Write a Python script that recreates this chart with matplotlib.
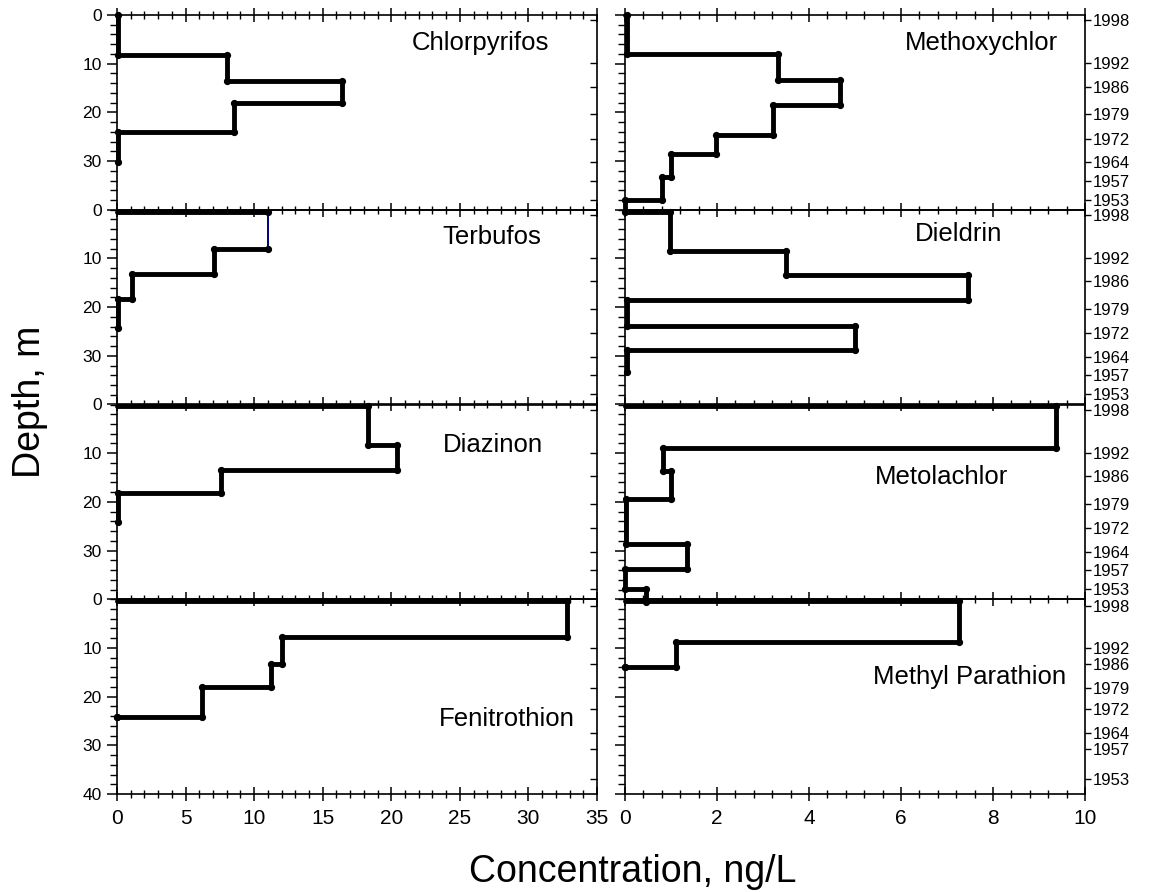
import numpy as np
import matplotlib
matplotlib.use("Agg")
from matplotlib import pyplot as plt
from matplotlib.ticker import MultipleLocator, FixedLocator, NullFormatter

plt.rcParams['font.family'] = ['Liberation Sans', 'DejaVu Sans']

# step profiles: depth boundaries (m) and concentration in each layer (ng/L)
chlorpyrifos_depth = [0, 8.2, 13.5, 18.0, 24.0, 30.2]
chlorpyrifos_conc = [0.1, 8.0, 16.4, 8.5, 0.1]

terbufos_depth = [0.4, 8.1, 13.25, 18.3, 24.2]
terbufos_conc = [11.0, 7.07, 1.07, 0.1]

diazinon_depth = [0.4, 8.4, 13.4, 18.2, 24.2]
diazinon_conc = [18.3, 20.4, 7.6, 0.1]

fenitrothion_depth = [0.4, 7.8, 13.2, 18.0, 24.2, 24.2]
fenitrothion_conc = [32.8, 12.0, 11.2, 6.2, 0.0]

methoxychlor_depth = [0, 8.0, 13.4, 18.5, 24.7, 28.5, 33.2, 38.0, 40.5]
methoxychlor_conc = [0.04, 3.33, 4.67, 3.22, 1.98, 1.01, 0.80, 0.0]

dieldrin_depth = [0.4, 8.4, 13.3, 18.6, 23.8, 28.9, 33.3]
dieldrin_conc = [0.98, 3.5, 7.46, 0.05, 5.0, 0.05]

metolachlor_depth = [0.4, 9.0, 13.7, 19.4, 28.7, 33.8, 37.9, 40.5]
metolachlor_conc = [9.38, 0.82, 1.01, 0.02, 1.35, 0.0, 0.46]

methylparathion_depth = [0.4, 8.7, 13.9, 13.9]
methylparathion_conc = [7.25, 1.11, 0.0]

# year scale on the right-hand axis (depth of each year mark)
years = ['1998', '1992', '1986', '1979', '1972', '1964', '1957', '1953']
year_depth = [1.1, 9.9, 14.7, 20.4, 25.4, 30.2, 34.0, 37.9]
year_depth_bottom = [1.3, 10.0, 13.4, 18.2, 22.6, 27.4, 30.7, 36.9]

left_panels = [
    ('Chlorpyrifos', chlorpyrifos_depth, chlorpyrifos_conc, (26.5, 5.7)),
    ('Terbufos', terbufos_depth, terbufos_conc, (27.3, 5.6)),
    ('Diazinon', diazinon_depth, diazinon_conc, (27.4, 8.4)),
    ('Fenitrothion', fenitrothion_depth, fenitrothion_conc, (28.4, 24.6)),
]
right_panels = [
    ('Methoxychlor', methoxychlor_depth, methoxychlor_conc, (7.75, 5.8)),
    ('Dieldrin', dieldrin_depth, dieldrin_conc, (7.25, 4.9)),
    ('Metolachlor', metolachlor_depth, metolachlor_conc, (6.88, 14.9)),
    ('Methyl Parathion', methylparathion_depth, methylparathion_conc, (7.5, 16.0)),
]
# segment drawn thin in the Terbufos profile
thin_segments = {'Terbufos': [1]}

W, H = 1156, 892
fig = plt.figure(figsize=(W / 100, H / 100), dpi=100)

top_px = 15
panel_h = (794 - 15) / 4.0


def profile(depth, conc):
    xs = [0.0]
    ys = [depth[0]]
    for i, c in enumerate(conc):
        xs += [c, c]
        ys += [depth[i], depth[i + 1]]
    return xs, ys


def draw(ax, name, depth, conc):
    xs, ys = profile(depth, conc)
    thin = thin_segments.get(name, [])
    for i in range(len(xs) - 1):
        if i in thin:
            ax.plot(xs[i:i + 2], ys[i:i + 2], color='#000080', lw=1.4,
                    clip_on=False, zorder=3)
        else:
            ax.plot(xs[i:i + 2], ys[i:i + 2], color='black', lw=3.5,
                    solid_capstyle='round', solid_joinstyle='round',
                    clip_on=False, zorder=3)
    ax.plot(xs[1:], ys[1:], 'o', color='black', ms=4.2, clip_on=False, zorder=4)


def setup(ax, xmax, xmajor, xminor, row, col):
    ax.set_xlim(0, xmax)
    ax.set_ylim(40, 0)
    for s in ax.spines.values():
        s.set_linewidth(1.2)
    ax.xaxis.set_major_locator(MultipleLocator(xmajor))
    ax.xaxis.set_minor_locator(MultipleLocator(xminor))
    bottom = row == 3
    ax.tick_params(axis='x', which='both', direction='inout', top=True,
                   bottom=bottom, labelbottom=bottom, labelsize=15, pad=6)
    ax.tick_params(axis='x', which='major', length=10, width=1.1)
    ax.tick_params(axis='x', which='minor', length=6, width=1.0)
    if bottom:
        ax.yaxis.set_major_locator(FixedLocator([0, 10, 20, 30, 40]))
    else:
        ax.yaxis.set_major_locator(FixedLocator([0, 10, 20, 30]))
    ax.yaxis.set_minor_locator(MultipleLocator(2))
    ax.tick_params(axis='y', which='both', direction='out', right=False,
                   labelsize=12.5, pad=4)
    ax.tick_params(axis='y', which='major', length=7, width=1.1)
    ax.tick_params(axis='y', which='minor', length=5, width=1.0)
    if col == 1:
        ax.tick_params(axis='y', labelleft=False)

    yd = year_depth_bottom if bottom else year_depth
    tw = ax.twinx()
    tw.set_ylim(40, 0)
    tw.yaxis.set_major_locator(FixedLocator(yd))
    tw.yaxis.set_minor_locator(FixedLocator([]))
    for s in tw.spines.values():
        s.set_visible(False)
    if col == 0:
        tw.tick_params(axis='y', direction='in', length=5, width=1.0,
                       labelright=False)
    else:
        tw.set_yticklabels(years)
        tw.tick_params(axis='y', direction='out', length=4, width=1.0,
                       labelsize=12, pad=1.5)


cols = [(117, 597, 35, 5, 1, left_panels), (625, 1085, 10, 2, 0.4, right_panels)]
for col, (x0, x1, xmax, xmaj, xmin, panels) in enumerate(cols):
    for row, (name, depth, conc, (tx, ty)) in enumerate(panels):
        bottom_px = top_px + panel_h * (row + 1)
        ax = fig.add_axes([x0 / W, 1 - bottom_px / H, (x1 - x0) / W, panel_h / H])
        setup(ax, xmax, xmaj, xmin, row, col)
        ax.set_zorder(10 - row)
        ax.patch.set_visible(False)
        draw(ax, name, depth, conc)
        ax.text(tx, ty, name, fontsize=18.5, ha='center', va='center')

fig.text(30 / W, 1 - 402 / H, 'Depth, m', rotation=90, fontsize=27,
         ha='center', va='center')
fig.text(633 / W, 1 - 872 / H, 'Concentration, ng/L', fontsize=27,
         ha='center', va='center')

fig.savefig('out.png', dpi=100, facecolor='white')
